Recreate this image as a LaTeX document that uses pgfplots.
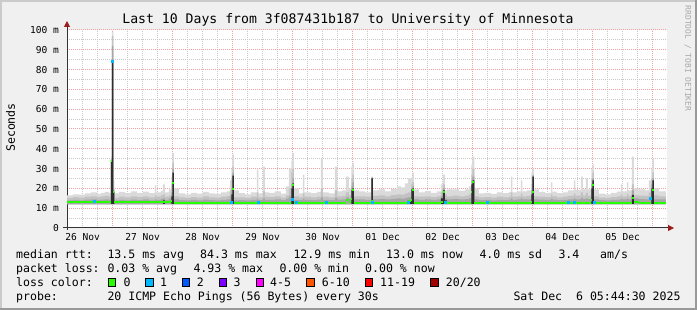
\documentclass[border=0pt]{standalone}
\usepackage{fontspec}
\setmainfont{DejaVu Sans Mono}
\usepackage{xcolor}
\usepackage{pgfplots}
\pgfplotsset{compat=1.18}
\usepackage{pgfplotstable}
\usepgfplotslibrary{fillbetween}
\usetikzlibrary{arrows.meta}

\definecolor{bgc}{HTML}{F0F0F0}
\definecolor{shadea}{HTML}{CBCBCB}
\definecolor{shadeb}{HTML}{999999}
\definecolor{mgrid}{HTML}{F0A0A0}
\definecolor{mingrid}{HTML}{C8C8C8}
\definecolor{arrowc}{HTML}{9B1C1C}
\definecolor{axisc}{HTML}{333333}
\definecolor{sA}{HTML}{DADADA}
\definecolor{sB}{HTML}{C2C2C2}
\definecolor{sC}{HTML}{A6A6A6}
\definecolor{sD}{HTML}{2E2E2E}
\definecolor{l0}{HTML}{26FF00}
\definecolor{l1}{HTML}{00B8FF}
\definecolor{l2}{HTML}{0059FF}
\definecolor{l3}{HTML}{7E00FF}
\definecolor{l4}{HTML}{FF00FF}
\definecolor{l6}{HTML}{FF5500}
\definecolor{l11}{HTML}{FF0000}
\definecolor{l20}{HTML}{A10000}
\definecolor{wm}{HTML}{A8A8A8}

% x = days since 26 Nov 00:00
\pgfplotstableread{
x lo hi m1 m2 dk med
0.240 12 16.5 15.2 14.0 12 13.3
0.338 12 17.0 15.6 14.2 12 13.3
0.438 12 16.8 15.4 14.0 12 13.3
0.538 12 17.5 15.8 14.3 12 13.3
0.638 12 18.0 16.0 14.4 12 13.3
0.738 12 17.2 15.6 14.1 12 13.3
0.805 12 17.8 16.0 14.3 12 13.3
0.872 12 18.3 16.2 14.5 12 13.3
0.938 12 17.6 15.8 14.2 12 13.3
0.972 12 36.0 35.0 34.5 34.0 34.0
0.988 12 99.0 97.0 92.0 84.3 84.3
1.013 12 24.0 20.0 19.0 18.3 18.3
1.030 12 17.5 15.2 13.9 12 12.9
1.105 12 18.2 15.8 14.2 12 12.9
1.205 12 17.6 15.5 14.0 12 12.9
1.305 12 18.5 16.0 14.3 12 12.9
1.405 12 17.8 15.6 14.1 12 12.9
1.505 12 18.4 16.0 14.4 12 12.9
1.605 12 17.6 15.5 14.0 12 12.9
1.705 12 21.5 16.5 14.5 12 12.9
1.730 12 18.0 15.8 14.2 12 12.9
1.805 12 18.8 16.5 14.6 12 12.9
1.838 12 22.0 17.0 15.0 14.0 12.9
1.872 12 18.0 15.8 14.2 12 12.9
1.938 12 19.5 16.5 15.0 12 12.9
1.980 12 26.0 22.0 18.0 16.0 13.5
1.997 12 38.0 33.0 30.0 28.0 22.8
2.022 12 20.0 16.0 14.5 12 12.8
2.105 12 17.5 15.5 14.1 12 12.8
2.205 12 17.0 15.2 14.0 12 12.8
2.305 12 17.8 15.6 14.2 12 12.8
2.405 12 17.3 15.4 14.0 12 12.8
2.505 12 18.3 16.0 14.3 12 12.8
2.605 12 17.5 15.5 14.1 12 12.8
2.705 12 17.2 15.3 14.0 12 12.8
2.805 12 18.0 15.8 14.2 12 12.8
2.905 12 18.5 16.2 14.5 12 12.8
2.955 12 24.0 19.0 16.0 12 12.8
2.980 12 30.0 25.0 20.0 17.0 13.0
2.997 12 37.0 31.0 28.0 26.5 19.5
3.022 12 19.0 15.5 14.0 12 12.8
3.105 12 17.6 15.5 14.1 12 12.8
3.205 12 17.0 15.2 14.0 12 12.8
3.305 12 18.0 15.8 14.2 12 12.8
3.405 12 29.5 18.0 14.8 12 12.8
3.430 12 17.5 15.5 14.1 12 12.8
3.505 12 31.0 18.5 15.0 12 12.8
3.538 12 18.0 15.8 14.2 12 12.8
3.605 12 17.8 15.6 14.2 12 12.8
3.705 12 18.5 16.0 14.4 12 12.8
3.805 12 17.4 15.4 14.1 12 12.8
3.888 12 21.0 16.5 14.8 12 12.8
3.938 12 30.0 20.0 16.0 12 12.8
3.980 12 34.0 28.0 22.0 20.0 14.0
3.997 12 38.0 30.0 25.0 22.5 21.5
4.022 12 20.0 16.0 14.2 12 12.8
4.105 12 17.5 15.5 14.1 12 12.8
4.172 12 27.0 17.5 14.8 12 12.8
4.197 12 18.0 15.8 14.2 12 12.8
4.305 12 17.6 15.5 14.1 12 12.8
4.405 12 18.2 15.9 14.3 12 12.8
4.472 12 35.0 20.0 15.5 12 12.8
4.505 12 18.0 15.8 14.2 12 12.8
4.605 12 17.5 15.5 14.1 12 12.8
4.705 12 31.0 19.0 15.2 12 12.8
4.747 12 18.5 16.0 14.3 12 12.8
4.822 12 19.0 16.2 14.5 12 12.8
4.888 12 26.0 18.0 15.5 12 14.0
4.938 12 20.0 16.5 14.8 12 13.0
4.980 12 31.0 25.0 21.0 19.0 14.5
4.997 12 33.0 27.0 23.0 20.0 19.0
5.022 12 19.0 16.0 14.5 12 12.8
5.105 12 18.5 16.0 14.4 12 12.8
5.205 12 18.0 15.8 14.2 12 12.8
5.313 12 26.0 25.5 25.5 25.0 13.5
5.338 12 19.0 16.2 14.5 12 12.8
5.438 12 19.5 16.5 14.6 12 12.8
5.538 12 18.5 16.0 14.4 12 12.8
5.638 12 19.8 16.6 14.7 12 12.8
5.738 12 21.0 17.0 15.0 12 12.8
5.805 12 20.5 16.8 14.8 12 12.8
5.872 12 22.5 17.5 15.2 12 12.8
5.922 12 25.0 18.0 15.5 14.0 13.5
5.980 12 25.0 22.0 20.0 19.5 14.0
5.997 12 28.0 23.0 21.0 20.0 19.0
6.022 12 19.5 16.0 14.5 12 12.8
6.105 12 18.0 15.8 14.2 12 12.8
6.205 12 18.6 16.0 14.4 12 12.8
6.305 12 17.8 15.6 14.2 12 12.8
6.405 12 18.5 16.0 14.4 12 12.8
6.472 12 22.0 18.0 16.0 15.0 13.0
6.505 12 27.0 22.0 20.0 19.0 18.4
6.538 12 19.0 17.0 15.0 14.0 13.0
6.572 12 19.5 16.0 14.5 12 12.8
6.672 12 19.5 16.4 14.6 12 12.8
6.772 12 18.8 16.0 14.4 12 12.8
6.872 12 19.5 16.4 14.6 12 12.8
6.938 12 21.0 17.0 15.0 12 12.8
6.980 12 32.0 27.0 24.0 22.0 18.0
6.997 12 36.0 30.0 26.0 24.0 23.4
7.030 12 20.0 16.0 14.5 12 12.8
7.105 12 17.5 15.5 14.1 12 12.8
7.205 12 17.8 15.6 14.2 12 12.8
7.305 12 17.2 15.3 14.0 12 12.8
7.405 12 18.0 15.8 14.2 12 12.8
7.505 12 17.6 15.5 14.1 12 12.8
7.605 12 18.2 15.9 14.3 12 12.8
7.638 12 26.0 18.0 15.0 12 12.8
7.663 12 18.0 15.8 14.2 12 12.8
7.738 12 18.5 16.0 14.4 12 12.8
7.805 12 24.0 17.5 15.0 12 12.8
7.830 12 18.5 16.0 14.4 12 12.8
7.905 12 19.0 16.2 14.5 12 12.8
7.980 12 28.0 22.0 19.0 17.0 13.0
7.997 12 30.0 27.0 26.5 26.0 18.4
8.022 12 19.5 16.0 14.5 12 12.8
8.105 12 18.2 15.9 14.3 12 12.8
8.205 12 17.8 15.6 14.2 12 12.8
8.305 12 23.0 17.0 14.8 12 12.8
8.330 12 18.4 16.0 14.3 12 12.8
8.405 12 17.6 15.5 14.1 12 12.8
8.505 12 18.0 15.8 14.2 12 12.8
8.588 12 19.0 16.2 14.5 12 12.8
8.688 12 24.0 17.5 15.0 12 12.8
8.713 12 19.2 16.3 14.5 12 12.8
8.805 12 26.0 18.0 15.2 12 12.8
8.838 12 19.5 16.4 14.6 12 12.8
8.888 12 25.0 17.8 15.0 12 12.8
8.922 12 19.5 16.4 14.6 12 12.8
8.980 12 30.0 25.0 22.0 20.0 14.0
8.997 12 32.0 28.0 25.0 24.0 21.5
9.022 12 19.5 16.0 14.5 12 12.8
9.105 12 17.3 15.4 14.1 12 12.8
9.205 12 17.0 15.2 14.0 12 12.8
9.305 12 17.8 15.6 14.2 12 12.8
9.405 12 18.4 16.0 14.3 12 12.8
9.472 12 22.0 17.0 14.8 12 12.8
9.497 12 18.5 16.0 14.4 12 12.8
9.572 12 23.0 17.2 14.9 12 12.8
9.597 12 19.0 16.2 14.5 12 12.8
9.655 12 36.0 22.0 19.0 16.7 15.0
9.688 12 20.0 16.5 15.0 12 13.0
9.772 12 19.5 16.4 14.6 12 12.8
9.872 12 19.0 16.2 14.5 12 12.8
9.938 12 24.0 18.0 15.5 12 12.8
9.980 12 30.0 25.0 22.0 20.0 15.0
9.997 12 35.0 28.0 25.0 24.0 19.0
10.022 12 20.0 16.5 14.5 12 12.8
10.105 12 18.5 16.0 14.4 12 12.8
10.222 12 18.0 15.8 14.2 12 12.8
}\smoke

\begin{document}
\pagecolor{bgc}%
\begin{tikzpicture}
% page frame (background colour comes from \pagecolor, so the axis layers stay visible)
\path (0bp,0bp) rectangle (697bp,310bp);
\fill[shadea] (0bp,308bp) rectangle (697bp,310bp);
\fill[shadea] (0bp,0bp) rectangle (2bp,310bp);
\fill[shadeb] (0bp,0bp) rectangle (697bp,2bp);
\fill[shadeb] (695bp,0bp) rectangle (697bp,310bp);

\begin{axis}[
  at={(67bp,82bp)}, anchor=south west,
  scale only axis, width=600bp, height=198bp,
  xmin=0.24, xmax=10.24, ymin=0, ymax=100,
  axis background/.style={fill=white},
  axis x line*=bottom, axis y line*=left,
  x axis line style={axisc, line width=1bp, shorten <=-4bp, shorten >=-7bp,
    -{Triangle[length=6bp,width=6bp,color=arrowc]}},
  y axis line style={axisc, line width=1bp, shorten <=-2bp, shorten >=-9bp,
    -{Triangle[length=6bp,width=6bp,color=arrowc]}},
  major tick length=0pt, minor tick length=0pt,
  xtick={0.5,1.5,...,9.5},
  xticklabels={26 Nov,27 Nov,28 Nov,29 Nov,30 Nov,01 Dec,02 Dec,03 Dec,04 Dec,05 Dec},
  minor xtick={0.25,0.5,...,10.25},
  xminorgrids=true, xmajorgrids=false,
  extra x ticks={1,2,...,10}, extra x tick labels={},
  extra x tick style={xmajorgrids=true, major tick length=0pt},
  ytick={0,10,...,100},
  yticklabels={0,10 m,20 m,30 m,40 m,50 m,60 m,70 m,80 m,90 m,100 m},
  minor ytick={5,15,...,95},
  ymajorgrids=true, yminorgrids=true,
  major grid style={mgrid, line width=1bp, dash pattern=on 1bp off 1bp},
  minor grid style={mingrid, line width=1bp, dash pattern=on 1bp off 1bp},
  tick label style={font=\fontsize{9.6}{11}\selectfont, text=black},
  yticklabel style={xshift=-4.5bp},
  xticklabel style={yshift=-2bp},
  clip=true,
]
\addplot[const plot, draw=none, name path=lo, forget plot] table[x=x,y=lo]{\smoke};
\addplot[const plot, draw=none, name path=hi, forget plot] table[x=x,y=hi]{\smoke};
\addplot[const plot, draw=none, name path=m1, forget plot] table[x=x,y=m1]{\smoke};
\addplot[const plot, draw=none, name path=m2, forget plot] table[x=x,y=m2]{\smoke};
\addplot[const plot, draw=none, name path=dk, forget plot] table[x=x,y=dk]{\smoke};
\addplot[fill=sA, draw=none, forget plot] fill between[of=hi and lo];
\addplot[fill=sB, draw=none, forget plot] fill between[of=m1 and lo];
\addplot[fill=sC, draw=none, forget plot] fill between[of=m2 and lo];
\addplot[fill=sD, draw=none, forget plot] fill between[of=dk and lo];
\addplot[jump mark left, l0, line width=2bp, forget plot] table[x=x,y=med]{\smoke};
\addplot[only marks, mark=square*, mark size=1bp, l1, forget plot] coordinates {
 (0.688,13.3) (0.988,84.3) (2.975,13.0) (3.43,12.8) (3.99,14.5) (4.06,12.8)
 (4.56,12.8) (5.33,13.0) (5.93,13.0) (6.55,13.0) (7.25,12.8) (8.60,12.8)
 (8.70,12.8) (9.02,13.0) (9.96,15.0)
};
\end{axis}

% title
\node[anchor=base, inner sep=0pt, font=\fontsize{13.2}{15}\selectfont] at (348bp,286.5bp)
  {Last 10 Days from 3f087431b187 to University of Minnesota};
% y label
\node[rotate=90, inner sep=0pt, font=\fontsize{11.6}{13}\selectfont] at (10.5bp,182.5bp) {Seconds};
% watermark
\node[rotate=-90, inner sep=0pt, text=wm, font=\fontsize{8}{9}\selectfont] at (688bp,251.5bp)
  {RRDTOOL / TOBI OETIKER};

% legend rows
\begin{scope}[every node/.style={anchor=base west, inner sep=0pt, font=\fontsize{11.6}{13}\selectfont}]
\node at (16bp,51.7bp) {median rtt:};
\node at (107.3bp,51.7bp) {13.5 ms avg};
\node at (200bp,51.7bp) {84.3 ms max};
\node at (293.3bp,51.7bp) {12.9 ms min};
\node at (386bp,51.7bp) {13.0 ms now};
\node at (479.3bp,51.7bp) {4.0 ms sd};
\node at (558.3bp,51.7bp) {3.4};
\node at (600bp,51.7bp) {am/s};

\node at (16bp,38bp) {packet loss:};
\node at (107.3bp,38bp) {0.03 \% avg};
\node at (193.3bp,38bp) {4.93 \% max};
\node at (279.3bp,38bp) {0.00 \% min};
\node at (365bp,38bp) {0.00 \% now};

\node at (16bp,24bp) {loss color:};
\node at (123.3bp,24bp) {0};
\node at (160bp,24bp) {1};
\node at (196.7bp,24bp) {2};
\node at (233.3bp,24bp) {3};
\node at (270bp,24bp) {4-5};
\node at (321.7bp,24bp) {6-10};
\node at (380bp,24bp) {11-19};
\node at (445.7bp,24bp) {20/20};

\node at (16bp,10bp) {probe:};
\node at (107.3bp,10bp) {20 ICMP Echo Pings (56 Bytes) every 30s};
\node at (513.3bp,10bp) {Sat Dec\ \ 6 05:44:30 2025};
\end{scope}
\foreach \px/\c in {108.3/l0,145.7/l1,182.3/l2,219/l3,256/l4,306.7/l6,365/l11,430.7/l20}{
  \filldraw[fill=\c, draw=black, line width=1bp] (\px bp,23.8bp) rectangle ++(7.5bp,7.5bp);
}
\end{tikzpicture}
\end{document}
